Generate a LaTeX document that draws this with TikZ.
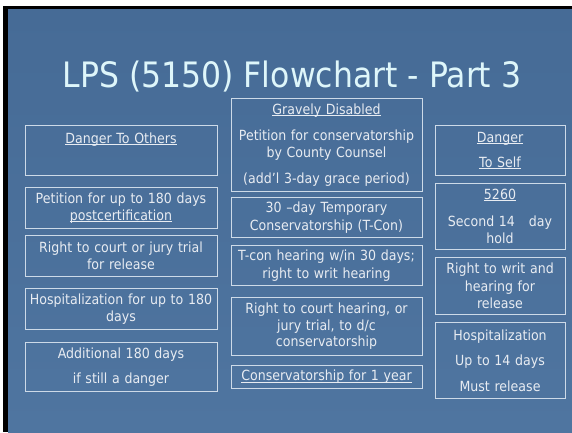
\documentclass[tikz,border=0pt]{standalone}
\usepackage{fontspec}
\setmainfont{DejaVu Sans}[FakeStretch=0.9]
\usepackage{tikz}
\usetikzlibrary{positioning}
\definecolor{slidetop}{RGB}{70, 107, 150}
\definecolor{slidebot}{RGB}{79, 117, 160}
\definecolor{titlecyan}{RGB}{222, 246, 250}
\definecolor{boxtext}{RGB}{232, 236, 242}
\definecolor{boxline}{RGB}{205, 218, 232}
\newcommand{\undl}[1]{\leavevmode\setbox0=\hbox{#1}\rlap{\rule[-1.6pt]{\wd0}{0.8pt}}\box0}

\begin{document}
\begin{tikzpicture}[x=1pt, y=-1pt,
  fbox/.style={draw=boxline, line width=0.9pt, text=boxtext, align=center, inner xsep=3pt, inner ysep=3pt,
    font=\fontsize{14}{17.5}\selectfont, anchor=north},
  lcol/.style={fbox, minimum width=192pt, text width=186pt},
  mcol/.style={fbox, minimum width=191pt, text width=185pt},
  rcol/.style={fbox, minimum width=130pt, text width=124pt}
]
  \useasboundingbox (0,0) rectangle (572,432);
  % slide background
  \fill[white] (0,0) rectangle (572,432);
  \fill[black] (3,6) rectangle (572,432);
  \shade[top color=slidetop, bottom color=slidebot] (8,9) rectangle (572,432);

  \node[text=titlecyan, font=\fontsize{35}{40}\selectfont] (title) at (292,77) {LPS (5150) Flowchart - Part 3};

  % danger to others
  \node[lcol, anchor=base, text height=15pt, text depth=29pt] (others) at (121,143) {\undl{Danger To Others}};
  \node[lcol, minimum height=41pt] (petition) at (121,187) {Petition for up to 180 days\\ \undl{postcertification}};
  \node[lcol, minimum height=41pt] (trial) at (121,235) {Right to court or jury trial\\ for release};
  \node[lcol, minimum height=41pt] (hosp) at (121,288) {Hospitalization for up to 180\\ days};
  \node[lcol, minimum height=49pt] (extra) at (121,342) {Additional 180 days\\[8pt] if still a danger};

  % gravely disabled
  \node[mcol, minimum height=93pt] (gravely) at (326.5,98) {\undl{Gravely Disabled}\\[8pt] Petition for conservatorship\\ by County Counsel\\[8pt] (add'l 3-day grace period)};
  \node[mcol, minimum height=40pt] (tcon) at (326.5,197) {30 --day Temporary\\ Conservatorship (T-Con)};
  \node[mcol, minimum height=40pt] (tconhear) at (326.5,245) {T-con hearing w/in 30 days;\\ right to writ hearing};
  \node[mcol, minimum height=58pt] (court) at (326.5,297) {Right to court hearing, or\\[-1pt] jury trial, to d/c\\[-1pt] conservatorship};
  \node[mcol, minimum height=23pt] (oneyear) at (326.5,365) {\undl{Conservatorship for 1 year}};

  % danger to self
  \node[rcol, minimum height=50pt] (self) at (500,125) {\undl{Danger}\\[7pt] \undl{To Self}};
  \node[rcol, minimum height=66pt] (hold) at (500,183) {\undl{5260}\\[9pt] Second 14\ \ \ day\\ hold};
  \node[rcol, minimum height=57pt] (writ) at (500,257) {Right to writ and\\ hearing for\\ release};
  \node[rcol, minimum height=76pt] (hosp14) at (500,322) {Hospitalization\\[8pt] Up to 14 days\\[8pt] Must release};
\end{tikzpicture}
\end{document}
